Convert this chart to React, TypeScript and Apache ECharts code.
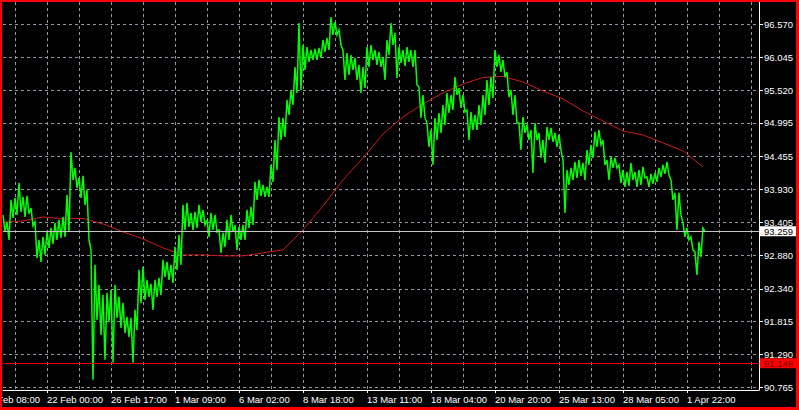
import React, { useEffect, useRef } from 'react';
import * as echarts from 'echarts';

// Right-axis tick labels (price scale)
const yTickLabels = ['90.765', '91.290', '91.815', '92.340', '92.880', '93.405', '93.930', '94.455', '94.995', '95.520', '96.045', '96.570'];
// Bottom-axis time labels; the first one sits just left of the visible window
const xTickLabels = ['18 Feb 08:00', '22 Feb 00:00', '26 Feb 17:00', '1 Mar 09:00', '6 Mar 02:00', '8 Mar 18:00', '13 Mar 11:00', '18 Mar 04:00', '20 Mar 20:00', '25 Mar 13:00', '28 Mar 05:00', '1 Apr 22:00'];

const CATEGORY_COUNT = 379;
const LABEL_EVERY = 32;
const FIRST_LABEL = 22; // category of '22 Feb 00:00'
const GRID_EVERY = 16;
const FIRST_GRID = 6;
const MA_STEP = 10;

// Price line: upper / lower reading for each 4-bar column
const greenHigh = [
  93.523, 93.411, 93.763, 93.795, 94.035, 93.811, 93.827, 93.635, 93.411, 93.123,
  93.171, 93.251, 93.315, 93.395, 93.443, 93.491, 93.843, 94.531, 94.275, 94.115,
  94.147, 93.923, 92.963, 92.723, 92.403, 92.243, 92.275, 92.323, 92.403, 92.211,
  92.115, 91.891, 91.875, 92.003, 92.643, 92.691, 92.483, 92.419, 92.483, 92.515,
  92.803, 92.771, 92.723, 93.011, 93.203, 93.683, 93.715, 93.555, 93.571, 93.683,
  93.603, 93.443, 93.555, 93.523, 93.283, 93.235, 93.443, 93.523, 93.363, 93.331,
  93.363, 93.603, 93.651, 94.051, 94.083, 94.003, 93.971, 94.323, 94.723, 95.091,
  95.075, 95.363, 95.523, 95.891, 96.595, 96.243, 96.211, 96.163, 96.179, 96.195,
  96.323, 96.355, 96.691, 96.611, 96.483, 96.163, 96.115, 96.083, 96.035, 95.923,
  95.891, 96.211, 96.243, 96.163, 96.131, 96.051, 96.323, 96.595, 96.435, 96.211,
  96.163, 96.211, 96.163, 96.163, 95.571, 95.443, 94.995, 94.883, 95.075, 95.155,
  95.283, 95.475, 95.443, 95.731, 95.555, 95.443, 95.203, 95.171, 95.123, 95.283,
  95.443, 95.683, 95.731, 96.163, 96.083, 96.003, 95.811, 95.523, 95.443, 94.995,
  95.091, 94.963, 94.883, 94.995, 94.835, 94.723, 94.931, 94.915, 94.835, 94.803,
  94.403, 94.243, 94.275, 94.371, 94.403, 94.355, 94.563, 94.643, 94.851, 94.883,
  94.723, 94.403, 94.451, 94.435, 94.323, 94.243, 94.211, 94.355, 94.211, 94.243,
  94.291, 94.131, 94.179, 94.195, 94.275, 94.323, 94.371, 94.083, 93.875, 93.875,
  93.395, 93.315, 93.171, 92.931, 93.091, 93.315,
];
const greenLow = [
  93.251, 93.123, 93.475, 93.523, 93.571, 93.491, 93.539, 93.347, 92.835, 92.771,
  92.883, 92.995, 93.059, 93.123, 93.155, 93.171, 93.251, 94.083, 93.955, 93.795,
  93.683, 93.123, 90.883, 91.843, 91.603, 91.203, 91.811, 91.155, 91.875, 91.715,
  91.635, 91.571, 91.155, 91.683, 92.115, 92.163, 92.211, 92.003, 92.211, 92.243,
  92.531, 92.483, 92.435, 92.643, 92.723, 93.283, 93.331, 93.283, 93.315, 93.411,
  93.363, 93.171, 93.283, 93.251, 92.915, 93.011, 93.123, 93.251, 92.963, 93.123,
  93.123, 93.315, 93.363, 93.763, 93.827, 93.811, 93.811, 94.051, 94.243, 94.723,
  94.771, 95.123, 95.283, 95.475, 95.523, 95.843, 95.971, 96.003, 96.003, 96.035,
  96.131, 96.163, 96.403, 96.403, 96.243, 95.683, 95.763, 95.843, 95.683, 95.475,
  95.555, 95.891, 96.003, 95.923, 95.891, 95.683, 96.083, 96.243, 95.715, 95.955,
  95.907, 95.971, 95.891, 95.603, 95.075, 95.075, 94.611, 94.323, 94.723, 94.835,
  94.963, 95.155, 95.203, 95.443, 95.235, 95.171, 94.723, 94.883, 94.883, 94.963,
  95.123, 95.283, 95.395, 95.891, 95.811, 95.731, 95.411, 95.123, 94.995, 94.563,
  94.835, 94.723, 94.195, 94.723, 94.435, 94.355, 94.723, 94.691, 94.611, 94.563,
  93.555, 94.003, 94.083, 94.115, 94.147, 94.083, 94.323, 94.435, 94.611, 94.643,
  94.323, 94.083, 94.275, 94.275, 94.035, 93.971, 93.987, 94.083, 93.971, 94.003,
  94.115, 93.971, 94.019, 94.051, 94.131, 94.179, 94.163, 93.763, 93.283, 93.523,
  93.171, 93.123, 92.963, 92.563, 92.851, 93.259,
];
// Moving average, one reading every 10 categories
const maValues = [
  93.403, 93.427, 93.491, 93.459, 93.467, 93.379, 93.251, 93.139, 92.995, 92.883,
  92.883, 92.867, 92.867, 92.915, 92.963, 93.283, 93.667, 94.083, 94.435, 94.819,
  95.091, 95.299, 95.475, 95.619, 95.723, 95.739, 95.651, 95.507, 95.379, 95.187,
  95.027, 94.867, 94.803, 94.675, 94.547, 94.291,
];
const currentPrice = 93.259;
const alertLevel = 91.149;

const FONT = 'Liberation Sans, Arial, sans-serif';
const FONT_SIZE = 9.5;

const categories = Array.from({ length: CATEGORY_COUNT }, (_, k) => {
  const t = (k - FIRST_LABEL) / LABEL_EVERY;
  return k >= FIRST_LABEL && Number.isInteger(t) && t + 1 < xTickLabels.length ? xTickLabels[t + 1] : '';
});
const priceData: (number | null)[] = Array(CATEGORY_COUNT).fill(null);
greenHigh.forEach((h, k) => {
  priceData[2 * k] = h;
  priceData[2 * k + 1] = greenLow[k];
});
const maData: (number | null)[] = Array(CATEGORY_COUNT).fill(null);
maValues.forEach((v, k) => {
  maData[MA_STEP * k] = v;
});
const yTickValues = yTickLabels.map(Number);

export default function App() {
  const ref = useRef<HTMLDivElement>(null);
  useEffect(() => {
    if (!ref.current) return;
    const chart = echarts.init(ref.current, undefined, { renderer: 'svg', width: 794, height: 405 });
    const gridLine = { color: '#8f99a6', type: [3, 3] as any, width: 1 };
    chart.setOption({
      animation: false,
      backgroundColor: '#000000',
      grid: { left: 1, top: 0, width: 756, height: 388, containLabel: false },
      graphic: [
        {
          type: 'text',
          x: -18,
          y: 392,
          silent: true,
          style: {
            text: xTickLabels[0],
            fill: '#ffffff',
            font: `${FONT_SIZE}px ${FONT}`,
            verticalAlign: 'top',
            align: 'left',
          },
        },
      ],
      xAxis: {
        type: 'category',
        data: categories,
        boundaryGap: false,
        axisLine: { show: true, lineStyle: { color: '#ffffff', width: 1 } },
        axisTick: {
          show: true,
          interval: (i: number) => categories[i] !== '',
          length: 3,
          lineStyle: { color: '#ffffff' },
        },
        axisLabel: {
          show: true,
          interval: (i: number) => categories[i] !== '',
          align: 'left',
          margin: 4,
          color: '#ffffff',
          fontSize: FONT_SIZE,
          fontFamily: FONT,
        },
        splitLine: {
          show: true,
          interval: (i: number) => i >= FIRST_GRID && (i - FIRST_GRID) % GRID_EVERY === 0,
          lineStyle: gridLine,
        },
      },
      yAxis: {
        type: 'value',
        position: 'right',
        min: 90.7202,
        max: 96.931,
        axisLine: { show: true, onZero: false, lineStyle: { color: '#ffffff', width: 1 } },
        axisTick: { show: true, customValues: yTickValues, length: 4, lineStyle: { color: '#ffffff' } },
        axisLabel: {
          customValues: yTickValues,
          formatter: (v: number) => {
            const idx = yTickValues.indexOf(v);
            return idx >= 0 ? yTickLabels[idx] : '';
          },
          color: '#ffffff',
          margin: 5,
          fontSize: FONT_SIZE,
          fontFamily: FONT,
        },
        splitLine: { show: true, lineStyle: gridLine },
      },
      series: [
        {
          type: 'line',
          data: maData,
          connectNulls: true,
          symbol: 'none',
          silent: true,
          lineStyle: { color: '#cc1a1a', width: 1 },
          z: 2,
        },
        {
          type: 'line',
          data: priceData,
          symbol: 'none',
          silent: true,
          lineStyle: { color: '#00ff00', width: 1.5, join: 'miter' },
          z: 3,
          markLine: {
            silent: true,
            symbol: 'none',
            z: 5,
            data: [
              {
                yAxis: currentPrice,
                lineStyle: { color: '#c4c4c4', type: 'solid', width: 1 },
                label: {
                  show: true,
                  position: 'end',
                  distance: 1,
                  formatter: currentPrice.toFixed(3),
                  backgroundColor: '#ffffff',
                  color: '#000000',
                  padding: [0, 4, 0, 4],
                  lineHeight: 10,
                  fontSize: FONT_SIZE,
                  fontFamily: FONT,
                },
              },
              {
                yAxis: alertLevel,
                lineStyle: { color: '#e00000', type: 'solid', width: 1 },
                label: {
                  show: true,
                  position: 'end',
                  distance: 1,
                  formatter: alertLevel.toFixed(3),
                  backgroundColor: '#ff0000',
                  color: '#7a0000',
                  padding: [0, 4, 0, 4],
                  lineHeight: 10,
                  fontSize: FONT_SIZE,
                  fontFamily: FONT,
                },
              },
            ],
          },
        },
      ],
    });
    return () => chart.dispose();
  }, []);

  return (
    <div
      style={{
        position: 'fixed',
        left: 0,
        top: 0,
        width: 799,
        height: 410,
        boxSizing: 'border-box',
        borderStyle: 'solid',
        borderColor: '#ff0000',
        borderWidth: '2px 3px 3px 2px',
        background: '#000000',
        overflow: 'hidden',
      }}
    >
      <div ref={ref} style={{ width: 794, height: 405 }} />
    </div>
  );
}
